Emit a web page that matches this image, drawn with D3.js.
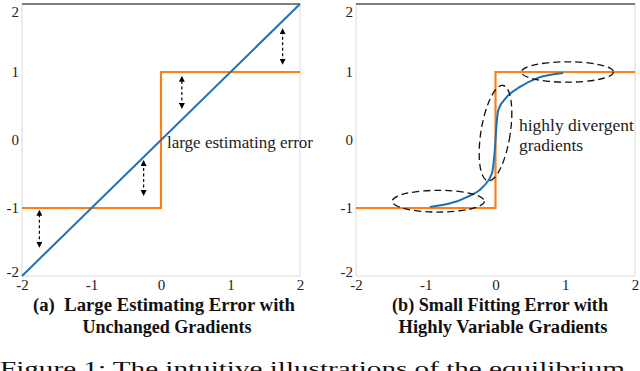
<!DOCTYPE html>
<html>
<head>
<meta charset="utf-8">
<script src="https://cdn.jsdelivr.net/npm/d3@7"></script>
<style>
  body { margin: 0; background: #fff; }
  svg { display: block; }
  text { font-family: "Liberation Serif", "Times New Roman", serif; }
</style>
</head>
<body>
<svg id="chart" width="640" height="371"></svg>
<script>
// ---- data ----
const xTicks = [-2, -1, 0, 1, 2];
const yTicks = [-2, -1, 0, 1, 2];

// sign (target) step function, both panels
const stepX = [-2, 0, 0, 2];
const stepY = [-1, -1, 1, 1];

// (a) identity estimator
const lineX = [-2, 2];
const lineY = [-2, 2];

// (a) dashed error arrows
const arrowX = [1.75, 0.3, -0.25, -1.75];
const arrowLo = [1.15, 0.5, -0.78, -1.54];
const arrowHi = [1.6, 0.9, -0.34, -1.07];

// (b) fitted curve
const fitX = [-0.94, -0.41, -0.18, -0.05, -0.01, 0.02, 0.04, 0.16, 0.35, 0.60, 0.97];
const fitY = [-0.985, -0.84, -0.69, -0.49, -0.15, 0.29, 0.44, 0.63, 0.78, 0.91, 0.985];

// (b) dashed ellipses: centre, radii (data units), tilt
const ellCx = [-0.82, 0.0, 1.03];
const ellCy = [-0.9, 0.1, 1.0];
const ellRx = [0.66, 0.21, 0.66];
const ellRy = [0.16, 0.71, 0.15];
const ellRot = [0, 9, 0];

const BLUE = '#1f6fb6';
const ORANGE = '#f8801c';
const GRID = '#dadada';
const SERIF = '"Liberation Serif", "Times New Roman", serif';

const svg = d3.select('#chart');

// arrow heads
const defs = svg.append('defs');
defs.append('marker')
  .attr('id', 'head')
  .attr('viewBox', '0 0 10 10')
  .attr('refX', 5).attr('refY', 5)
  .attr('markerWidth', 5).attr('markerHeight', 5)
  .attr('orient', 'auto-start-reverse')
  .append('path')
  .attr('d', 'M0,0 L10,5 L0,10 Z')
  .attr('fill', '#000');

const fmt = d => String(d); // plain hyphen minus, like the original

function panel(x0, x1) {
  const x = d3.scaleLinear().domain([-2, 2]).range([x0, x1]);
  const y = d3.scaleLinear().domain([-2, 2]).range([276, 4]);
  const g = svg.append('g');

  // frame
  g.append('line').attr('x1', x0).attr('x2', x0).attr('y1', y(2)).attr('y2', y(-2))
    .attr('stroke', GRID);
  g.append('line').attr('x1', x1).attr('x2', x1).attr('y1', y(2)).attr('y2', y(-2))
    .attr('stroke', GRID);
  g.append('line').attr('x1', x0).attr('x2', x1).attr('y1', y(-2)).attr('y2', y(-2))
    .attr('stroke', GRID);
  g.append('line').attr('x1', x0).attr('x2', x1).attr('y1', y(2)).attr('y2', y(2))
    .attr('stroke', '#000').attr('stroke-width', 1.2);

  // axes
  const xa = g.append('g').attr('transform', `translate(0,${y(-2)})`)
    .call(d3.axisBottom(x).tickValues(xTicks).tickFormat(fmt).tickSize(0).tickPadding(3));
  xa.attr('font-family', SERIF);
  xa.select('.domain').remove();
  xa.selectAll('text').attr('font-size', 15).attr('fill', '#222');

  const ya = g.append('g').attr('transform', `translate(${x0},0)`)
    .call(d3.axisLeft(y).tickValues(yTicks).tickFormat(fmt).tickSize(0).tickPadding(3));
  ya.attr('font-family', SERIF);
  ya.select('.domain').remove();
  ya.selectAll('text').attr('font-size', 15).attr('fill', '#222')
    .attr('dy', d => d === 2 ? '0.85em' : d === -2 ? '0' : '0.32em');

  // step function
  const line = d3.line().x(d => x(d[0])).y(d => y(d[1]));
  g.append('path')
    .datum(d3.zip(stepX, stepY))
    .attr('d', line)
    .attr('fill', 'none')
    .attr('stroke', ORANGE)
    .attr('stroke-width', 2.2);

  return { g, x, y };
}

// ---- (a) ----
const a = panel(22, 300);
a.g.append('path')
  .datum(d3.zip(lineX, lineY))
  .attr('d', d3.line().x(d => a.x(d[0])).y(d => a.y(d[1])))
  .attr('fill', 'none')
  .attr('stroke', BLUE)
  .attr('stroke-width', 2);

a.g.selectAll('.arrow')
  .data(arrowX)
  .join('line')
  .attr('class', 'arrow')
  .attr('x1', d => a.x(d)).attr('x2', d => a.x(d))
  .attr('y1', (d, i) => a.y(arrowLo[i]))
  .attr('y2', (d, i) => a.y(arrowHi[i]))
  .attr('stroke', '#000')
  .attr('stroke-width', 1.2)
  .attr('stroke-dasharray', '3,2.5')
  .attr('marker-start', 'url(#head)')
  .attr('marker-end', 'url(#head)');

a.g.append('text')
  .attr('x', 167).attr('y', 148)
  .attr('font-size', 17)
  .attr('fill', '#222')
  .text('large estimating error');

// ---- (b) ----
const b = panel(356, 635);
b.g.append('path')
  .datum(d3.zip(fitX, fitY))
  .attr('d', d3.line().curve(d3.curveMonotoneX).x(d => b.x(d[0])).y(d => b.y(d[1])))
  .attr('fill', 'none')
  .attr('stroke', BLUE)
  .attr('stroke-width', 2);

const kx = b.x(1) - b.x(0);
const ky = b.y(0) - b.y(1);
b.g.selectAll('.ell')
  .data(ellCx)
  .join('ellipse')
  .attr('class', 'ell')
  .attr('cx', 0).attr('cy', 0)
  .attr('rx', (d, i) => ellRx[i] * kx)
  .attr('ry', (d, i) => ellRy[i] * ky)
  .attr('transform', (d, i) => `translate(${b.x(d)},${b.y(ellCy[i])}) rotate(${ellRot[i]})`)
  .attr('fill', 'none')
  .attr('stroke', '#111')
  .attr('stroke-width', 1.3)
  .attr('stroke-dasharray', '7,4');

b.g.append('text')
  .attr('font-size', 17.5)
  .attr('fill', '#222')
  .selectAll('tspan')
  .data(['highly divergent', 'gradients'])
  .join('tspan')
  .attr('x', 519)
  .attr('y', (d, i) => 131 + i * 20)
  .text(d => d);

// ---- captions ----
const caps = [
  { t: '(a)\u00a0\u00a0Large Estimating Error with', cx: 164, y: 311, w: 262 },
  { t: 'Unchanged Gradients', cx: 167, y: 333, w: 169 },
  { t: '(b) Small Fitting Error with', cx: 500, y: 311, w: 216 },
  { t: 'Highly Variable Gradients', cx: 503, y: 333, w: 209 }
];
svg.selectAll('.cap')
  .data(caps)
  .join('text')
  .attr('class', 'cap')
  .attr('x', d => d.cx).attr('y', d => d.y)
  .attr('text-anchor', 'middle')
  .attr('font-size', 18)
  .attr('font-weight', 'bold')
  .attr('fill', '#111')
  .attr('textLength', d => d.w)
  .attr('lengthAdjust', 'spacingAndGlyphs')
  .text(d => d.t);

// figure caption, cut by the bottom edge as in the original crop
svg.append('text')
  .attr('x', 0).attr('y', 375)
  .attr('font-size', 19)
  .attr('fill', '#111')
  .attr('textLength', 625)
  .attr('lengthAdjust', 'spacingAndGlyphs')
  .text('Figure 1: The intuitive illustrations of the equilibrium');
</script>
</body>
</html>
